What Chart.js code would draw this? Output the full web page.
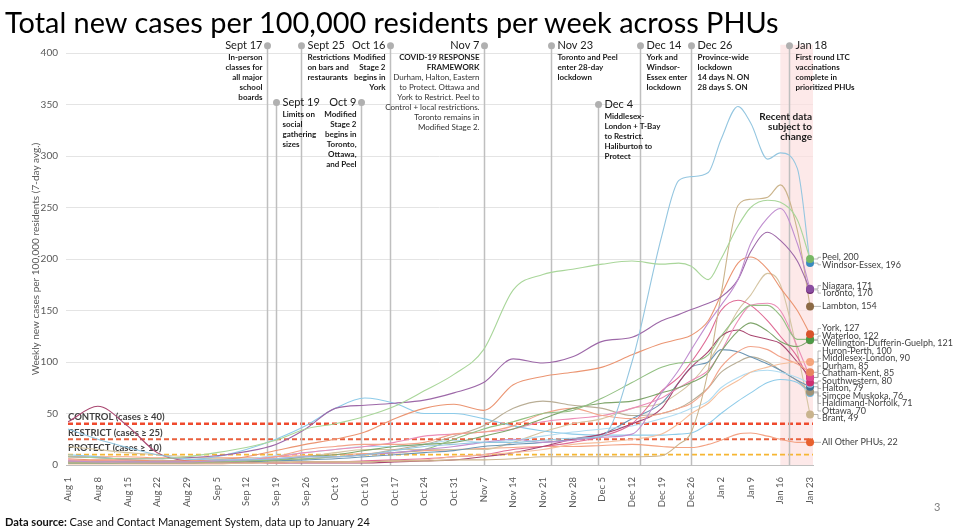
<!DOCTYPE html>
<html>
<head>
<meta charset="utf-8">
<script src="https://cdn.jsdelivr.net/npm/chart.js@4.4.0/dist/chart.umd.min.js"></script>
<style>
  body { margin: 0; background: #fff; }
  #wrap { position: relative; width: 959px; height: 532px; overflow: hidden; font-family: Lato, "Open Sans", sans-serif; }
  #c { position: absolute; left: 0; top: 0; }
  #title { position: absolute; left: 5px; top: 8px; font-size: 30px; font-weight: 400; color: #000; white-space: nowrap; line-height: 1; }
  #source { position: absolute; left: 5px; top: 516px; font-size: 13px; color: #111; white-space: nowrap; line-height: 1; }
  #page { position: absolute; left: 934px; top: 500px; font-size: 11px; color: #7f7f7f; }
</style>
</head>
<body>
<div id="wrap">
  <canvas id="c" width="959" height="532"></canvas>
  <div id="title">Total new cases per 100,000 residents per week across PHUs</div>
  <div id="source"><b>Data source:</b> Case and Contact Management System, data up to January 24</div>
  <div id="page">3</div>
</div>
<script>
    // Ejes: días desde el 1 de agosto de 2020
    const tickLabels = ['Aug 1', 'Aug 8', 'Aug 15', 'Aug 22', 'Aug 29', 'Sep 5', 'Sep 12', 'Sep 19', 'Sep 26',
        'Oct 3', 'Oct 10', 'Oct 17', 'Oct 24', 'Oct 31', 'Nov 7', 'Nov 14', 'Nov 21', 'Nov 28', 'Dec 5',
        'Dec 12', 'Dec 19', 'Dec 26', 'Jan 2', 'Jan 9', 'Jan 16', 'Jan 23'];
    const yTicks = [0, 50, 100, 150, 200, 250, 300, 350, 400];
    const days = [0, 7, 14, 21, 28, 35, 42, 49, 56, 63, 70, 77, 84, 91, 98, 105, 112, 119, 126, 133, 140,
        144, 147, 151, 154, 158, 161, 165, 168, 172, 175];

    // Series (casos semanales por 100.000, promedio 7 días)
    const peel = [8, 7, 6, 6, 8, 12, 17, 24, 35, 40, 47, 57, 72, 88, 112, 170, 185, 190, 195, 198, 195, 196, 193, 180, 200, 232, 250, 257, 255, 238, 200];
    const windsorEssex = [35, 25, 17, 10, 6, 5, 5, 6, 8, 8, 10, 14, 18, 20, 22, 22, 24, 26, 28, 100, 222, 276, 280, 284, 316, 348, 332, 297, 303, 288, 196];
    const niagara = [4, 3, 3, 3, 3, 4, 5, 6, 8, 8, 10, 12, 15, 18, 22, 25, 22, 24, 27, 30, 70, 92, 112, 138, 155, 180, 215, 240, 249, 215, 171];
    const toronto = [8, 7, 6, 6, 7, 9, 13, 20, 35, 55, 58, 60, 63, 70, 80, 103, 99, 105, 120, 124, 140, 146, 151, 157, 163, 180, 207, 226, 218, 198, 170];
    const lambton = [3, 3, 2, 2, 2, 2, 2, 3, 3, 3, 3, 4, 4, 5, 5, 6, 8, 8, 8, 8, 9, 20, 32, 92, 165, 252, 258, 260, 272, 228, 154];
    const york = [6, 5, 5, 4, 4, 5, 8, 14, 20, 25, 32, 45, 55, 59, 53, 78, 86, 90, 95, 107, 118, 122, 126, 140, 165, 196, 202, 190, 172, 150, 127];
    const waterloo = [3, 3, 3, 3, 3, 3, 4, 5, 6, 8, 10, 12, 15, 25, 35, 42, 50, 53, 65, 80, 95, 99, 100, 107, 125, 145, 155, 155, 145, 122, 122];
    const wdg = [2, 2, 2, 2, 2, 3, 4, 5, 8, 10, 14, 18, 20, 22, 28, 35, 45, 55, 60, 62, 70, 75, 80, 90, 110, 130, 138, 130, 120, 115, 121];
    const huronPerth = [1, 1, 1, 1, 1, 1, 2, 2, 3, 3, 3, 4, 5, 8, 10, 12, 15, 20, 22, 25, 30, 40, 50, 60, 72, 82, 90, 95, 98, 100, 100];
    const middlesex = [4, 4, 3, 3, 3, 3, 4, 8, 15, 18, 20, 20, 22, 30, 32, 38, 50, 55, 48, 45, 50, 55, 60, 75, 95, 110, 115, 112, 105, 98, 90];
    const durham = [5, 4, 4, 3, 3, 4, 5, 8, 12, 15, 18, 22, 28, 30, 32, 35, 42, 45, 48, 55, 65, 75, 82, 92, 110, 140, 155, 157, 150, 115, 85];
    const chathamKent = [42, 57, 38, 12, 4, 3, 3, 2, 2, 2, 2, 3, 4, 5, 8, 12, 18, 25, 30, 40, 55, 80, 95, 110, 125, 131, 126, 122, 118, 100, 85];
    const southwestern = [3, 3, 3, 2, 2, 2, 2, 2, 3, 3, 4, 5, 6, 8, 10, 15, 18, 22, 28, 40, 72, 85, 100, 125, 150, 160, 155, 140, 125, 105, 80];
    const halton = [3, 3, 3, 3, 3, 4, 6, 9, 12, 15, 18, 18, 20, 24, 22, 24, 28, 32, 35, 38, 45, 50, 55, 62, 75, 85, 90, 92, 90, 85, 79];
    const simcoe = [2, 2, 2, 2, 2, 2, 3, 4, 5, 6, 8, 10, 12, 14, 18, 20, 22, 25, 30, 45, 60, 80, 95, 100, 112, 110, 105, 98, 92, 82, 76];
    const haldimand = [2, 2, 2, 2, 3, 4, 4, 5, 6, 8, 10, 15, 20, 28, 38, 55, 62, 58, 55, 48, 50, 55, 62, 75, 90, 100, 105, 100, 92, 82, 71];
    const ottawa = [10, 8, 5, 4, 5, 8, 15, 25, 38, 55, 65, 60, 50, 50, 45, 38, 33, 30, 29, 29, 29, 30, 31, 40, 50, 62, 70, 80, 83, 80, 70];
    const brant = [18, 15, 12, 10, 8, 6, 6, 6, 8, 12, 15, 15, 15, 15, 15, 22, 32, 40, 45, 55, 60, 70, 80, 100, 120, 150, 165, 186, 175, 110, 49];
    const allOther = [8, 8, 8, 7, 7, 7, 7, 8, 9, 10, 11, 12, 14, 15, 16, 17, 18, 18, 19, 20, 18, 17, 17, 20, 24, 30, 31, 28, 25, 22, 22];

    const names = ['Peel', 'Windsor-Essex', 'Niagara', 'Toronto', 'Lambton', 'York', 'Waterloo',
        'Wellington-Dufferin-Guelph', 'Huron-Perth', 'Middlesex-London', 'Durham', 'Chatham-Kent',
        'Southwestern', 'Halton', 'Simcoe Muskoka', 'Haldimand-Norfolk', 'Ottawa', 'Brant', 'All Other PHUs'];
    const series = [peel, windsorEssex, niagara, toronto, lambton, york, waterloo, wdg, huronPerth, middlesex,
        durham, chathamKent, southwestern, halton, simcoe, haldimand, ottawa, brant, allOther];

    const lineColors = ['#a9d69a', '#94c6e0', '#c08fd0', '#9d68a8', '#cbb48c', '#eb9572', '#93c083', '#7fa56b',
        '#f6bf9c', '#f2a48a', '#eb8db7', '#a8456f', '#df6b95', '#b0dcf2', '#6d96b4', '#b9ae96', '#8dcbe9',
        '#d5c5a3', '#f3a283'];
    const dotColors = ['#78b865', '#3a8bbf', '#8a4da0', '#6b2570', '#8c6a45', '#d9532b', '#4d9a45', '#5f8f4f',
        '#f4a47c', '#e8845f', '#e0468f', '#8e1a55', '#cf2f6f', '#8ccae8', '#3e6f93', '#a09276', '#6fb6dc',
        '#c9b48e', '#e8612f'];

    // Umbrales del marco de respuesta
    const thresholds = [40, 25, 10];
    const thresholdNames = ['CONTROL (cases \u2265 40)', 'RESTRICT (cases \u2265 25)', 'PROTECT (cases \u2265 10)'];
    const thresholdColors = ['#ef4a2e', '#e95f3c', '#f6b633'];

    // Eventos (día desde 1 ago, altura del marcador en unidades del eje y)
    const events = [
        { day: 47, level: 407, side: 'left', date: 'Sept 17', text: ['In-person', 'classes for', 'all major', 'school', 'boards'] },
        { day: 49, level: 352, side: 'right', date: 'Sept 19', text: ['Limits on', 'social', 'gathering', 'sizes'] },
        { day: 55, level: 407, side: 'right', date: 'Sept 25', text: ['Restrictions', 'on bars and', 'restaurants'] },
        { day: 69, level: 352, side: 'left', date: 'Oct 9', text: ['Modified', 'Stage 2', 'begins in', 'Toronto,', 'Ottawa,', 'and Peel'] },
        { day: 76, level: 407, side: 'left', date: 'Oct 16', text: ['Modified', 'Stage 2', 'begins in', 'York'] },
        { day: 98, level: 407, side: 'left', date: 'Nov 7', boldLines: 2, text: ['COVID-19 RESPONSE', 'FRAMEWORK',
            'Durham, Halton, Eastern', 'to Protect. Ottawa and', 'York to Restrict. Peel to',
            'Control + local restrictions.', 'Toronto remains in', 'Modified Stage 2.'] },
        { day: 114, level: 407, side: 'right', date: 'Nov 23', text: ['Toronto and Peel', 'enter 28-day', 'lockdown'] },
        { day: 125, level: 350, side: 'right', date: 'Dec 4', text: ['Middlesex-', 'London + T-Bay', 'to Restrict.', 'Haliburton to', 'Protect'] },
        { day: 135, level: 407, side: 'right', date: 'Dec 14', text: ['York and', 'Windsor-', 'Essex enter', 'lockdown'] },
        { day: 147, level: 407, side: 'right', date: 'Dec 26', text: ['Province-wide', 'lockdown', '14 days N. ON', '28 days S. ON'] },
        { day: 170, level: 407, side: 'right', date: 'Jan 18', text: ['First round LTC', 'vaccinations', 'complete in', 'prioritized PHUs'] }
    ];
    const recentFrom = 168;

    const FF = 'Lato, "Open Sans", sans-serif';

    const overlay = {
        id: 'overlay',
        beforeDatasetsDraw(chart) {
            const { ctx, chartArea: a, scales: { x, y } } = chart;
            ctx.save();
            // zona de datos recientes
            const sx = x.getPixelForValue(recentFrom);
            const top = y.getPixelForValue(408);
            ctx.fillStyle = 'rgba(252, 224, 224, 0.7)';
            ctx.fillRect(sx, top, a.right - sx, a.bottom - top);

            // umbrales
            thresholds.forEach((t, i) => {
                const py = y.getPixelForValue(t);
                ctx.strokeStyle = thresholdColors[i];
                ctx.lineWidth = i === 0 ? 2.4 : 1.8;
                ctx.setLineDash([5, 3]);
                ctx.beginPath();
                ctx.moveTo(a.left + 2, py);
                ctx.lineTo(a.right, py);
                ctx.stroke();
                ctx.setLineDash([]);
                ctx.font = 'bold 9.5px ' + FF;
                ctx.fillStyle = '#3f3f3f';
                ctx.textAlign = 'left';
                ctx.textBaseline = 'middle';
                ctx.fillText(thresholdNames[i], a.left + 2, py - 6.5);
            });

            // líneas de eventos
            events.forEach(ev => {
                const px = Math.round(x.getPixelForValue(ev.day)) + 0.5;
                const py = y.getPixelForValue(ev.level);
                ctx.strokeStyle = '#bfbfbf';
                ctx.lineWidth = 1.5;
                ctx.beginPath();
                ctx.moveTo(px, py);
                ctx.lineTo(px, a.bottom);
                ctx.stroke();
                ctx.fillStyle = '#b0b0b0';
                ctx.beginPath();
                ctx.arc(px, py, 3.5, 0, Math.PI * 2);
                ctx.fill();
            });
            ctx.restore();
        },
        afterDatasetsDraw(chart) {
            const { ctx, chartArea: a, scales: { x, y } } = chart;
            ctx.save();
            ctx.textBaseline = 'middle';

            // textos de eventos
            events.forEach(ev => {
                const px = Math.round(x.getPixelForValue(ev.day)) + 0.5;
                const py = y.getPixelForValue(ev.level);
                const tx = ev.side === 'left' ? px - 5 : px + 6;
                ctx.textAlign = ev.side === 'left' ? 'right' : 'left';
                ctx.fillStyle = '#1a1a1a';
                ctx.font = '11px ' + FF;
                ctx.fillText(ev.date, tx, py);
                ev.text.forEach((line, j) => {
                    const bold = ev.boldLines === undefined || j < ev.boldLines;
                    ctx.font = (bold ? 'bold ' : '') + '8px ' + FF;
                    ctx.fillStyle = bold ? '#1a1a1a' : '#333';
                    ctx.fillText(line, tx, py + 12 + j * 9.9);
                });
            });

            // aviso de datos recientes
            ctx.textAlign = 'right';
            ctx.font = 'bold 10px ' + FF;
            ctx.fillStyle = '#1a1a1a';
            ['Recent data', 'subject to', 'change'].forEach((t, j) => ctx.fillText(t, a.right - 1, a.top + 64 + j * 9.7));

            // puntos finales y etiquetas
            const items = series.map((s, i) => {
                const el = chart.getDatasetMeta(i).data[s.length - 1];
                return { i, px: el.x, dy: el.y, ly: el.y };
            });
            items.sort((p, q) => p.dy - q.dy);
            const gap = 7.5;
            for (let k = 0; k < 300; k++) {
                for (let j = 1; j < items.length; j++) {
                    const d = items[j].ly - items[j - 1].ly;
                    if (d < gap) {
                        const m = (gap - d) / 2;
                        items[j].ly += m;
                        items[j - 1].ly -= m;
                    }
                }
            }
            const lx = a.right + 9;
            items.forEach(it => {
                ctx.strokeStyle = '#a6a6a6';
                ctx.lineWidth = 0.8;
                ctx.beginPath();
                ctx.moveTo(it.px + 3, it.dy);
                ctx.lineTo(lx - 4, it.dy);
                ctx.lineTo(lx - 4, it.ly);
                ctx.lineTo(lx - 1, it.ly);
                ctx.stroke();
            });
            items.slice().reverse().forEach(it => {
                ctx.fillStyle = dotColors[it.i];
                ctx.beginPath();
                ctx.arc(it.px, it.dy, 4, 0, Math.PI * 2);
                ctx.fill();
            });
            // tamaño de letra ajustado al ancho de la etiqueta más larga
            ctx.font = '10px ' + FF;
            const fs = 10 * 131 / ctx.measureText('Wellington-Dufferin-Guelph, 121').width;
            ctx.font = fs.toFixed(2) + 'px ' + FF;
            ctx.textAlign = 'left';
            ctx.fillStyle = '#404040';
            items.forEach(it => {
                const s = series[it.i];
                ctx.fillText(names[it.i] + ', ' + s[s.length - 1], lx, it.ly);
            });
            ctx.restore();
        }
    };

    const datasets = series.map((s, i) => ({
        label: names[i],
        data: days.map((d, j) => ({ x: d, y: s[j] })),
        borderColor: lineColors[i],
        borderWidth: 1.1,
        pointRadius: 0,
        cubicInterpolationMode: 'monotone',
        clip: false
    }));

    new Chart(document.getElementById('c'), {
        type: 'line',
        data: { datasets: datasets },
        options: {
            responsive: false,
            animation: false,
            layout: { padding: { left: 0, right: 146, top: 53, bottom: 0 } },
            plugins: { legend: { display: false }, tooltip: { enabled: false } },
            scales: {
                x: {
                    type: 'linear',
                    min: -0.5,
                    max: 175.7,
                    afterBuildTicks: axis => { axis.ticks = tickLabels.map((_, i) => ({ value: i * 7 })); },
                    afterFit: axis => { axis.height = 67; },
                    grid: { display: false },
                    border: { display: true, color: '#bfbfbf', width: 1 },
                    ticks: {
                        autoSkip: false,
                        minRotation: 90,
                        maxRotation: 90,
                        padding: 4,
                        color: '#595959',
                        font: { family: FF, size: 9.5 },
                        callback: v => tickLabels[Math.round(v / 7)]
                    }
                },
                y: {
                    min: 0,
                    max: 400,
                    afterBuildTicks: axis => { axis.ticks = yTicks.map(v => ({ value: v })); },
                    afterFit: axis => { axis.width = 66; },
                    grid: { color: '#e4e4e4', drawTicks: false },
                    border: { display: false },
                    ticks: { padding: 8, color: '#595959', font: { family: FF, size: 10 } },
                    title: {
                        display: true,
                        text: 'Weekly new cases per 100,000 residents (7-day avg.)',
                        color: '#595959',
                        font: { family: FF, size: 10 },
                        padding: { top: 30, bottom: 0 }
                    }
                }
            }
        },
        plugins: [overlay]
    });

    // Ajustar el ancho del título y la fuente de datos al original
    function fitWidth(el, w) {
        const r = el.getBoundingClientRect().width;
        const fs = parseFloat(getComputedStyle(el).fontSize);
        el.style.fontSize = (fs * w / r) + 'px';
    }
    fitWidth(document.getElementById('title'), 774);
    fitWidth(document.getElementById('source'), 365);
</script>
</body>
</html>
